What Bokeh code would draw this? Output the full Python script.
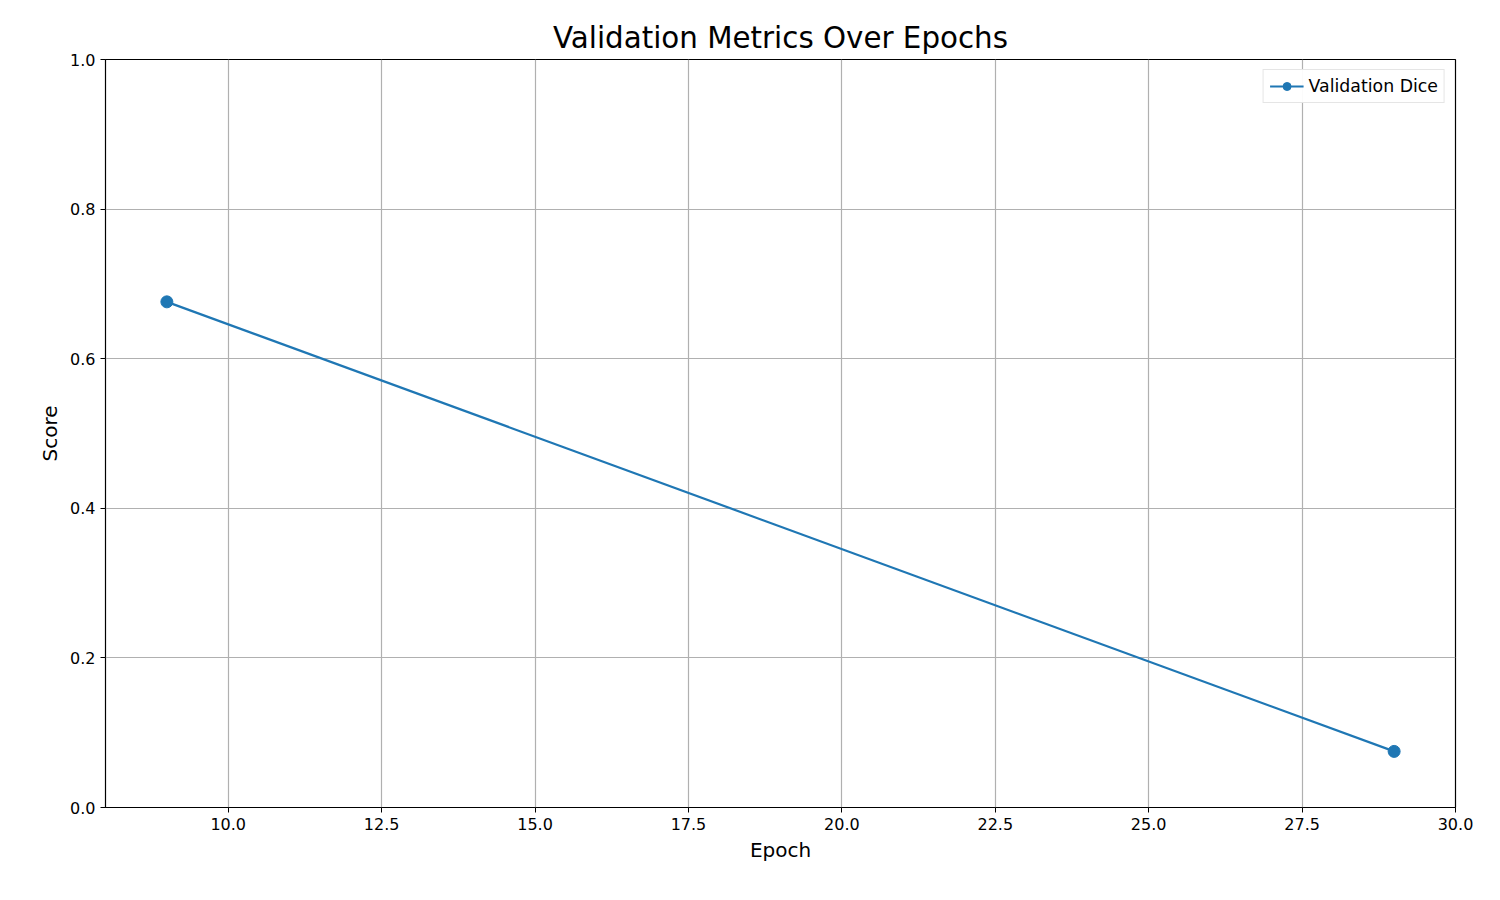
from bokeh.plotting import figure
from bokeh.models import FixedTicker, PrintfTickFormatter, Range1d, Legend
from bokeh.embed import file_html
from bokeh.resources import INLINE

epochs = [9, 29]
val_dice = [0.676, 0.075]
x_ticks = [10.0, 12.5, 15.0, 17.5, 20.0, 22.5, 25.0, 27.5, 30.0]
y_ticks = [0.0, 0.2, 0.4, 0.6, 0.8, 1.0]

FONT = "DejaVu Sans"
BLUE = "#1f77b4"

p = figure(width=1484, height=884, output_backend="svg", toolbar_location=None,
           x_range=Range1d(8, 30), y_range=Range1d(0, 1),
           min_border_left=105, min_border_right=29, min_border_top=59, min_border_bottom=77)

p.title.text = "Validation Metrics Over Epochs"
p.title.text_font = FONT
p.title.text_font_size = "22pt"
p.title.text_font_style = "normal"
p.title.text_color = "black"
p.title.align = "center"

p.outline_line_color = "black"
p.outline_line_width = 1.2

for ax, ticks, label in ((p.xaxis[0], x_ticks, "Epoch"), (p.yaxis[0], y_ticks, "Score")):
    ax.ticker = FixedTicker(ticks=ticks)
    ax.formatter = PrintfTickFormatter(format="%.1f")
    ax.axis_label = label
    ax.axis_label_text_font = FONT
    ax.axis_label_text_font_size = "15pt"
    ax.axis_label_text_font_style = "normal"
    ax.axis_label_text_color = "black"
    ax.major_label_text_font = FONT
    ax.major_label_text_font_size = "12pt"
    ax.major_label_text_color = "black"
    ax.major_tick_in = 0
    ax.major_tick_out = 5
    ax.minor_tick_line_color = None
    ax.axis_line_color = None
    ax.major_tick_line_color = "black"

p.grid.grid_line_color = "#b0b0b0"
p.grid.grid_line_width = 1.2

l = p.line(epochs, val_dice, line_color=BLUE, line_width=2.2)
c = p.scatter(epochs, val_dice, size=12, fill_color=BLUE, line_color=BLUE)

legend = Legend(items=[("Validation Dice", [l, c])], location="top_right")
legend.label_text_font = FONT
legend.label_text_font_size = "13pt"
legend.label_text_color = "black"
legend.glyph_width = 34
legend.border_line_color = "#cccccc"
legend.margin = 10
legend.padding = 6
p.add_layout(legend)

open("out.html", "w").write(file_html(p, INLINE))
